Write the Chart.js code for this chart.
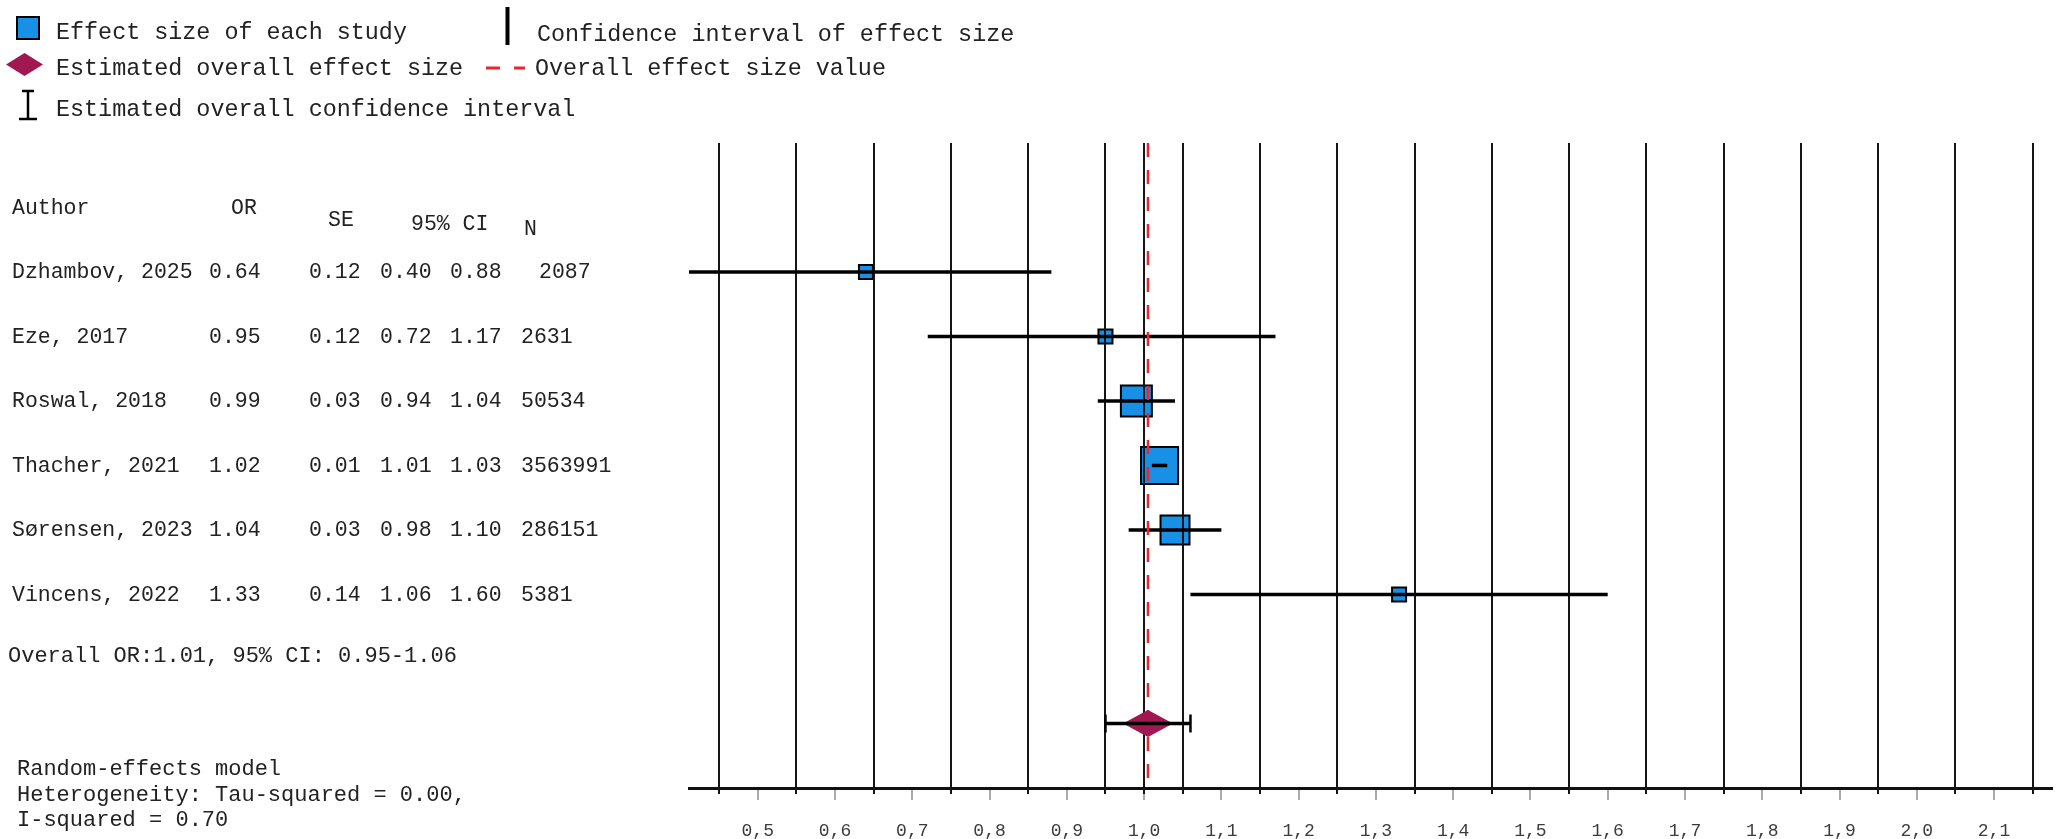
<!DOCTYPE html>
<html><head><meta charset="utf-8">
<script src="https://cdn.jsdelivr.net/npm/chart.js@4.4.1/dist/chart.umd.min.js"></script>
<style>
html,body{margin:0;padding:0;background:#fff;overflow:hidden;}
#wrap{position:relative;width:2060px;height:839px;overflow:hidden;background:#fff;}
#c{position:absolute;left:0;top:0;width:2060px;height:839px;}
#leg{position:absolute;left:0;top:0;}
.t{position:absolute;font-family:'Liberation Mono','Courier New',monospace;color:#222;white-space:pre;line-height:1;}
</style></head>
<body>
<div id="wrap">
  <canvas id="c" width="2060" height="839"></canvas>
  <svg id="leg" width="700" height="130" xmlns="http://www.w3.org/2000/svg">
    <rect x="17" y="17" width="22" height="22" fill="#1790E6" stroke="#000" stroke-width="2"/>
    <polygon points="6,64.5 24.5,53 43,64.5 24.5,76" fill="#A0184F"/>
    <line x1="28" y1="91" x2="28" y2="119" stroke="#000" stroke-width="2.5"/>
    <line x1="22" y1="91" x2="34" y2="91" stroke="#000" stroke-width="2.5"/>
    <line x1="19" y1="119" x2="37" y2="119" stroke="#000" stroke-width="2.5"/>
    <rect x="505.5" y="7" width="4" height="38" fill="#000"/>
    <line x1="486" y1="68" x2="500" y2="68" stroke="#E8262B" stroke-width="3"/>
    <line x1="514" y1="68" x2="525" y2="68" stroke="#E8262B" stroke-width="3"/>
  </svg>
  <div id="txt"></div>
</div>
<script>
// ---- data ----
const studies = ['Dzhambov, 2025','Eze, 2017','Roswal, 2018','Thacher, 2021','Sørensen, 2023','Vincens, 2022'];
const orVals  = [0.64, 0.95, 0.99, 1.02, 1.04, 1.33];
const seVals  = [0.12, 0.12, 0.03, 0.01, 0.03, 0.14];
const ciLow   = [0.40, 0.72, 0.94, 1.01, 0.98, 1.06];
const ciHigh  = [0.88, 1.17, 1.04, 1.03, 1.10, 1.60];
const nVals   = [2087, 2631, 50534, 3563991, 286151, 5381];
const overallSummary = [1.01, 0.95, 1.06];   // OR, CI low, CI high as printed
const overallEst = 1.005;                     // plotted position of the pooled estimate
const overallLow = 0.95;
const overallHigh = 1.06;
const nullValue = 1.0;
const tickVals   = [0.5,0.6,0.7,0.8,0.9,1.0,1.1,1.2,1.3,1.4,1.5,1.6,1.7,1.8,1.9,2.0,2.1];
const tickLabels = ['0,5','0,6','0,7','0,8','0,9','1,0','1,1','1,2','1,3','1,4','1,5','1,6','1,7','1,8','1,9','2,0','2,1'];
const gridVals   = [0.45,0.55,0.65,0.75,0.85,0.95,1.05,1.15,1.25,1.35,1.45,1.55,1.65,1.75,1.85,1.95,2.05,2.15];
const tau2 = '0.00', i2 = '0.70';

// ---- text (HTML) ----
const txt = document.getElementById('txt');
function addText(s, left, cy, size){
  const d = document.createElement('div');
  d.className = 't';
  d.textContent = s;
  d.style.left = left + 'px';
  d.style.top = (cy - 0.45*size) + 'px';
  d.style.fontSize = size + 'px';
  txt.appendChild(d);
}
// legend
addText('Effect size of each study', 56, 33, 23.4);
addText('Confidence interval of effect size', 537, 35, 23.4);
addText('Estimated overall effect size', 56, 69, 23.4);
addText('Overall effect size value', 535, 69, 23.4);
addText('Estimated overall confidence interval', 56, 110, 23.4);
// table header
addText('Author', 12, 208, 21.5);
addText('OR', 231, 208, 21.5);
addText('SE', 328, 219.5, 21.5);
addText('95% CI', 411, 223.5, 21.5);
addText('N', 524, 229, 21.5);
// rows
const row0 = 272, rowStep = 64.5;
studies.forEach((s,i)=>{
  const cy = row0 + rowStep*i;
  addText(s, 12, cy, 21.5);
  addText(orVals[i].toFixed(2), 209, cy, 21.5);
  addText(seVals[i].toFixed(2), 309, cy, 21.5);
  addText(ciLow[i].toFixed(2), 380, cy, 21.5);
  addText(ciHigh[i].toFixed(2), 450, cy, 21.5);
  addText(String(nVals[i]), i===0 ? 539 : 521, cy, 21.5);
});
addText('Overall OR:' + overallSummary[0].toFixed(2) + ', 95% CI: ' + overallSummary[1].toFixed(2) + '-' + overallSummary[2].toFixed(2), 8, 656, 22);
addText('Random-effects model', 17, 769, 22);
addText('Heterogeneity: Tau-squared = ' + tau2 + ',', 17, 795, 22);
addText('I-squared = ' + i2, 17, 820, 22);

// ---- chart ----
function diamondImg(w, h, color){
  const c = document.createElement('canvas');
  c.width = w; c.height = h;
  const g = c.getContext('2d');
  g.fillStyle = color;
  g.beginPath();
  g.moveTo(0, h/2); g.lineTo(w/2, 0); g.lineTo(w, h/2); g.lineTo(w/2, h);
  g.closePath(); g.fill();
  return c;
}

const gridPlugin = {
  id: 'forestGrid',
  afterDatasetDraw(chart, args){
    if (args.index !== 0) return;
    const {ctx, chartArea: a, scales: {x}} = chart;
    ctx.save();
    ctx.strokeStyle = '#151515';
    ctx.lineWidth = 2;
    gridVals.concat([nullValue]).forEach(v=>{
      const px = Math.round(x.getPixelForValue(v));
      ctx.beginPath();
      ctx.moveTo(px, a.top);
      ctx.lineTo(px, a.bottom + 6);
      ctx.stroke();
    });
    ctx.restore();
  }
};

const datasets = [];
// 0: study squares
datasets.push({
  data: orVals.map((v,i)=>({x:v, y:i})),
  pointStyle: 'rect',
  pointRadius: [9.9, 9.9, 21.9, 26.2, 20.5, 9.9],
  backgroundColor: '#1790E6',
  borderColor: '#000',
  borderWidth: 2,
  showLine: false,
  order: 10
});
// confidence intervals of each study
studies.forEach((s,i)=>{
  datasets.push({
    data: [{x:ciLow[i], y:i},{x:ciHigh[i], y:i}],
    showLine: true,
    borderColor: '#000',
    borderWidth: 3.5,
    pointRadius: 0,
    clip: 0,
    order: 5
  });
});
// overall effect dashed line
datasets.push({
  data: [{x:overallEst, y:-2},{x:overallEst, y:8}],
  showLine: true,
  borderColor: '#E8262B',
  borderWidth: 2.5,
  borderDash: [14, 13],
  pointRadius: 0,
  clip: 0,
  order: 4
});
// overall diamond
datasets.push({
  data: [{x:overallEst, y:7}],
  pointStyle: diamondImg(50, 27, '#A0184F'),
  pointRadius: 20,
  showLine: false,
  order: 3
});
// overall CI bar
datasets.push({
  data: [{x:overallLow, y:7},{x:overallHigh, y:7}],
  showLine: true,
  borderColor: '#000',
  borderWidth: 3.5,
  pointStyle: 'line',
  pointRotation: 90,
  pointRadius: 9,
  pointBorderWidth: 2.5,
  pointBorderColor: '#000',
  order: 2
});

new Chart(document.getElementById('c'), {
  type: 'scatter',
  data: { datasets },
  plugins: [gridPlugin],
  options: {
    responsive: false,
    maintainAspectRatio: false,
    devicePixelRatio: 1,
    animation: false,
    events: [],
    layout: { autoPadding: false, padding: { left: 689, right: 8, top: 143, bottom: 0 } },
    plugins: { legend: { display: false }, tooltip: { enabled: false } },
    scales: {
      x: {
        type: 'linear',
        min: 0.411,
        max: 2.175,
        afterBuildTicks: s => { s.ticks = tickVals.map(v=>({value:v})); },
        afterFit: s => { s.height = 51; },
        grid: { display: true, drawOnChartArea: false, drawTicks: true, tickLength: 12, color: '#aaaaaa', lineWidth: 2 },
        border: { display: true, color: '#111', width: 3 },
        ticks: {
          autoSkip: false, maxRotation: 0, padding: 20,
          color: '#3c3c3c',
          font: { family: 'Liberation Mono', size: 18 },
          callback: (v, i) => tickLabels[i]
        }
      },
      y: { type: 'linear', min: -2, max: 8, reverse: true, display: false }
    }
  }
});
</script>
</body></html>
